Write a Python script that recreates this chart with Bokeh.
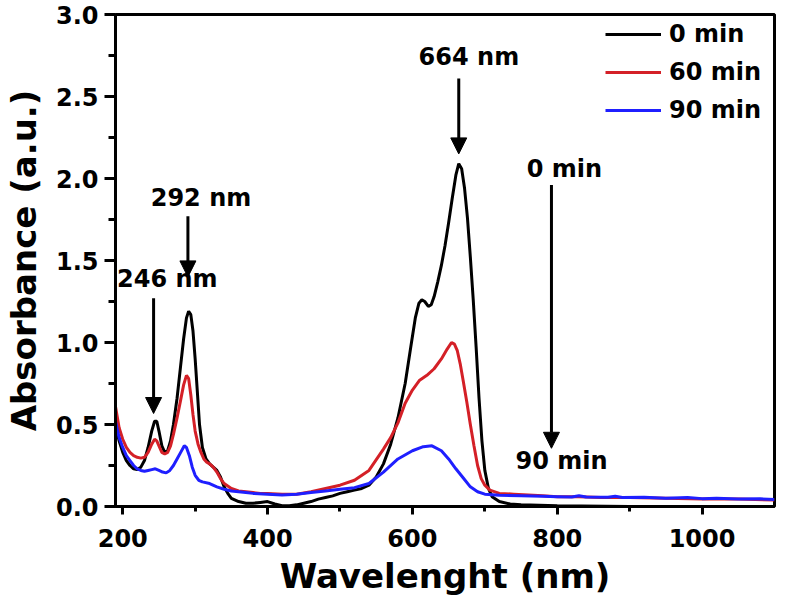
from bokeh.plotting import figure
from bokeh.models import (Legend, LegendItem, Arrow, NormalHead, Label,
                          FixedTicker, Range1d, NumeralTickFormatter)
from bokeh.embed import file_html
from bokeh.resources import INLINE

# ---------------- data ----------------
wl_0 = [190, 195, 200, 205, 210, 215, 220, 225, 230, 235, 240, 244, 247, 250, 254,
        258, 262, 266, 270, 275, 280, 284, 288, 291, 294, 297, 300, 303, 306, 310,
        315, 320, 325, 330, 335, 340, 345, 350, 360, 370, 380, 390, 400, 410, 420,
        430, 440, 450, 460, 470, 480, 490, 500, 510, 520, 530, 540, 550, 560, 570,
        580, 590, 598, 604, 609, 613, 617, 622, 626, 630, 635, 640, 645, 650, 655,
        660, 664, 668, 672, 676, 680, 684, 688, 692, 696, 700, 705, 710, 720, 735,
        750, 800, 900, 1100]
abs_0 = [0.50, 0.40, 0.33, 0.28, 0.25, 0.23, 0.225, 0.24, 0.28, 0.36, 0.46, 0.52, 0.52, 0.46, 0.37,
         0.33, 0.34, 0.40, 0.50, 0.66, 0.86, 1.02, 1.15, 1.19, 1.17, 1.07, 0.90, 0.70, 0.50, 0.36,
         0.29, 0.26, 0.24, 0.22, 0.18, 0.12, 0.08, 0.05, 0.03, 0.02, 0.02, 0.025, 0.03, 0.015, 0.005,
         0.005, 0.01, 0.02, 0.03, 0.045, 0.055, 0.065, 0.08, 0.09, 0.10, 0.11, 0.13, 0.18, 0.26, 0.38,
         0.54, 0.75, 0.98, 1.15, 1.24, 1.26, 1.25, 1.22, 1.23, 1.28, 1.37, 1.47, 1.59, 1.73, 1.88,
         2.02, 2.09, 2.06, 1.94, 1.76, 1.52, 1.26, 0.97, 0.66, 0.40, 0.22, 0.11, 0.06, 0.03, 0.015,
         0.01, 0.005, 0.0, 0.0]

wl_60 = [190, 195, 200, 205, 210, 215, 220, 225, 230, 235, 240, 244, 247, 250, 254,
         258, 262, 266, 270, 275, 280, 284, 288, 291, 294, 297, 300, 304, 308, 312,
         316, 320, 325, 330, 335, 340, 350, 360, 370, 380, 390, 400, 420, 440, 460,
         480, 500, 520, 540, 560, 570, 580, 590, 600, 610, 620, 630, 640, 648, 654,
         658, 662, 666, 670, 675, 680, 685, 690, 695, 700, 707, 720, 740, 760, 780,
         800, 830, 860, 900, 950, 1000, 1050, 1100]
abs_60 = [0.61, 0.48, 0.41, 0.36, 0.33, 0.31, 0.30, 0.295, 0.30, 0.33, 0.38, 0.41, 0.40, 0.37, 0.33,
          0.32, 0.33, 0.37, 0.44, 0.54, 0.65, 0.74, 0.80, 0.78, 0.68, 0.56, 0.46, 0.38, 0.33, 0.29,
          0.27, 0.26, 0.24, 0.21, 0.17, 0.14, 0.11, 0.095, 0.09, 0.085, 0.08, 0.08, 0.075, 0.075, 0.09,
          0.11, 0.13, 0.16, 0.22, 0.35, 0.42, 0.51, 0.63, 0.71, 0.77, 0.80, 0.84, 0.90, 0.96, 1.00,
          0.99, 0.95, 0.87, 0.77, 0.64, 0.50, 0.37, 0.25, 0.17, 0.13, 0.10, 0.08, 0.075, 0.07, 0.065,
          0.06, 0.06, 0.055, 0.055, 0.05, 0.045, 0.045, 0.04]

wl_90 = [190, 195, 200, 205, 210, 215, 220, 225, 230, 235, 240, 245, 250, 255, 260,
         265, 270, 275, 280, 285, 288, 292, 296, 300, 305, 310, 320, 330, 340, 350,
         360, 370, 380, 400, 420, 440, 460, 480, 500, 520, 540, 560, 580, 600, 615,
         627, 640, 650, 660, 670, 680, 690, 700, 720, 750, 780, 800, 820, 830, 840,
         870, 880, 890, 920, 950, 980, 1000, 1020, 1050, 1080, 1100]
abs_90 = [0.52, 0.42, 0.36, 0.31, 0.28, 0.25, 0.23, 0.22, 0.215, 0.22, 0.225, 0.23, 0.22, 0.21, 0.205,
          0.22, 0.25, 0.29, 0.33, 0.37, 0.36, 0.31, 0.24, 0.19, 0.16, 0.15, 0.14, 0.12, 0.105, 0.095,
          0.09, 0.085, 0.08, 0.075, 0.07, 0.075, 0.085, 0.095, 0.105, 0.115, 0.14, 0.21, 0.29, 0.34, 0.365,
          0.37, 0.34, 0.29, 0.23, 0.175, 0.12, 0.09, 0.075, 0.068, 0.065, 0.062, 0.06, 0.058, 0.066, 0.058,
          0.056, 0.062, 0.055, 0.057, 0.05, 0.055, 0.048, 0.05, 0.045, 0.047, 0.042]

series_names = ["0 min", "60 min", "90 min"]
x_ticks = [200, 400, 600, 800, 1000]
y_ticks = [0.0, 0.5, 1.0, 1.5, 2.0, 2.5, 3.0]

FONT = "DejaVu Sans"

p = figure(width=779, height=601, output_backend="svg", toolbar_location=None,
           x_range=Range1d(190, 1100), y_range=Range1d(0, 3.0),
           min_border_left=107, min_border_right=5, min_border_top=14, min_border_bottom=95)

colors = ["#000000", "#d42027", "#1f1fff"]
r0 = p.line(wl_0, abs_0, line_color=colors[0], line_width=3)
r1 = p.line(wl_60, abs_60, line_color=colors[1], line_width=3)
r2 = p.line(wl_90, abs_90, line_color=colors[2], line_width=3)

p.xgrid.visible = False
p.ygrid.visible = False
p.outline_line_color = "black"
p.outline_line_width = 3
p.outline_line_alpha = 1.0
p.background_fill_color = "white"
p.border_fill_color = "white"

for ax in (p.xaxis[0], p.yaxis[0]):
    ax.axis_line_width = 3
    ax.major_tick_line_width = 3
    ax.minor_tick_line_width = 3
    ax.major_tick_in = 0
    ax.minor_tick_in = 0
    ax.major_label_text_font = FONT
    ax.major_label_text_font_style = "bold"
    ax.major_label_text_font_size = "24px"
    ax.major_label_text_color = "black"
    ax.axis_label_text_font = FONT
    ax.axis_label_text_font_style = "bold"
    ax.axis_label_text_font_size = "34px"
    ax.axis_label_text_color = "black"

p.xaxis.ticker = FixedTicker(ticks=x_ticks, minor_ticks=[300, 500, 700, 900])
p.yaxis.ticker = FixedTicker(ticks=y_ticks, minor_ticks=[0.25, 0.75, 1.25, 1.75, 2.25, 2.75])
p.yaxis.formatter = NumeralTickFormatter(format="0.0")
p.xaxis.major_tick_out = 8
p.xaxis.minor_tick_out = 5
p.yaxis.major_tick_out = 11
p.yaxis.minor_tick_out = 7
p.xaxis.major_label_standoff = 14
p.yaxis.major_label_standoff = 6
p.xaxis.axis_label = "Wavelenght (nm)"
p.yaxis.axis_label = "Absorbance (a.u.)"
p.xaxis.axis_label_standoff = 6
p.yaxis.axis_label_standoff = 9

legend = Legend(items=[LegendItem(label=series_names[0], renderers=[r0]),
                       LegendItem(label=series_names[1], renderers=[r1]),
                       LegendItem(label=series_names[2], renderers=[r2])],
                location=(490, 381), padding=0, margin=0, spacing=8,
                glyph_width=56, glyph_height=30, label_height=30, label_standoff=8,
                label_text_font=FONT, label_text_font_style="bold",
                label_text_font_size="24px", label_text_color="black",
                border_line_color=None, background_fill_alpha=0)
p.add_layout(legend, "center")

def arrow(x0, y0, x1, y1):
    p.add_layout(Arrow(end=NormalHead(size=16, fill_color="black", line_color="black"),
                       x_start=x0, y_start=y0, x_end=x1, y_end=y1,
                       line_color="black", line_width=3))

def label(x, y, t):
    p.add_layout(Label(x=x, y=y, text=t, text_align="center", text_baseline="middle",
                       text_font=FONT, text_font_style="bold", text_font_size="24px",
                       text_color="black"))

arrow(664, 2.61, 664, 2.15)
arrow(792, 1.96, 792, 0.355)
arrow(290, 1.77, 290, 1.40)
arrow(242.6, 1.27, 242.6, 0.567)
label(678, 2.74, "664 nm")
label(810, 2.06, "0 min")
label(806, 0.275, "90 min")
label(308, 1.88, "292 nm")
label(261.5, 1.385, "246 nm")

open("out.html", "w").write(file_html(p, INLINE))
